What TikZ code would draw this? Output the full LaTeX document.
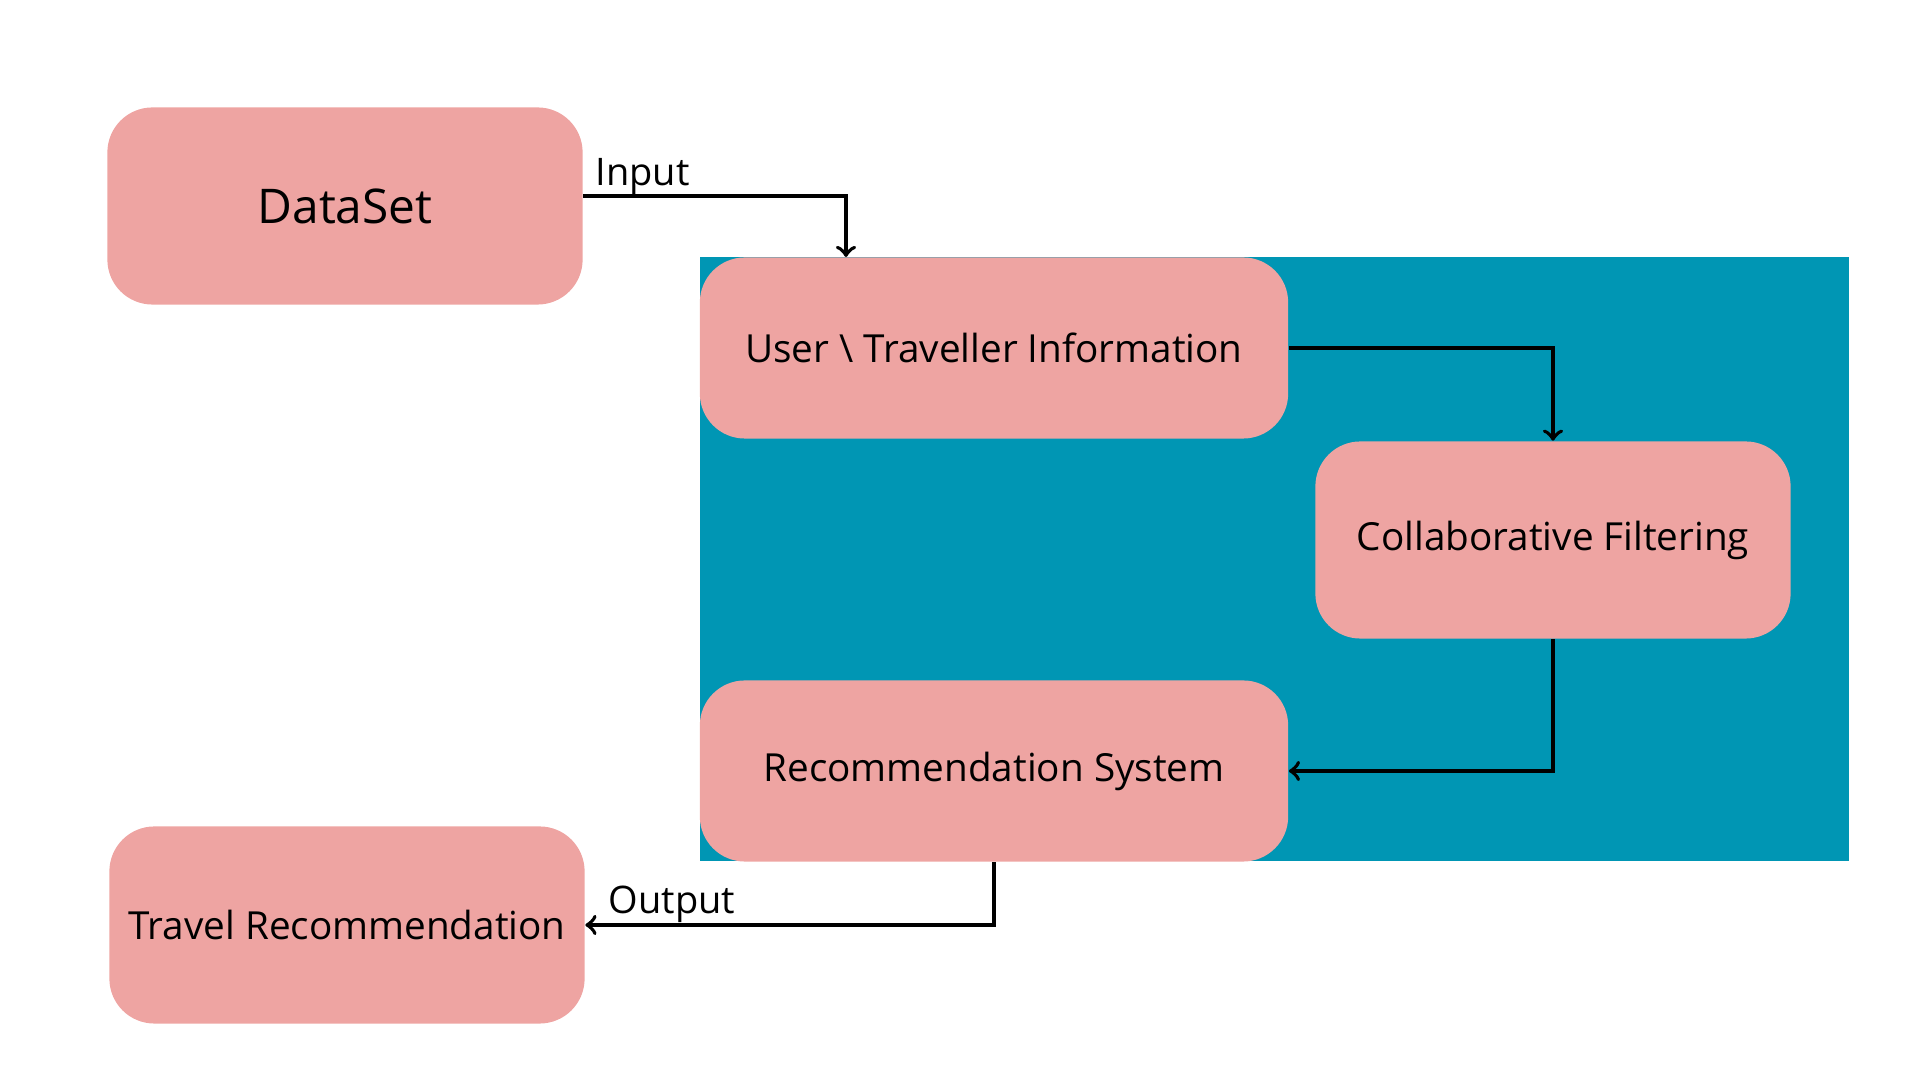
\documentclass[tikz,border=0pt]{standalone}
\usepackage{fontspec}
\setmainfont{Open Sans}
\usepackage{xcolor}
\usetikzlibrary{positioning, calc}

\definecolor{boxpink}{RGB}{238,164,162}
\definecolor{panelteal}{RGB}{0,150,180}

\begin{document}
\begin{tikzpicture}[
    x=0.01cm, y=-0.01cm,
    box/.style={fill=boxpink, rectangle, rounded corners=0.45cm, align=center, inner sep=0pt, font=\fontsize{11}{13}\selectfont},
    bigbox/.style={box, minimum width=4.75cm, minimum height=1.97cm},
    widebox/.style={box, minimum width=5.88cm, minimum height=1.81cm},
    arrow/.style={->, >=to, line width=1.1pt},
    lbl/.style={font=\fontsize{10.8}{13}\selectfont, inner sep=0pt},
]
\useasboundingbox (0,0) rectangle (1920,1080);

% Panel
\fill[panelteal] (700,257) rectangle (1849,861);

% Outside boxes
\node[bigbox, font=\fontsize{13.6}{16}\selectfont] (dataset) at (345,206) {DataSet};
\node[bigbox] (travel) at (347,925) {Travel Recommendation};

% Inside boxes
\node[widebox] (user) at (994,348) {User \textbackslash{} Traveller Information};
\node[bigbox] (collab) at (1553,540) {Collaborative Filtering};
\node[widebox] (recsys) at (994,771) {Recommendation System};

% Arrows
\coordinate (inputin) at (846,257);
\draw[arrow] ([yshift=0.1cm]dataset.east) -| (inputin);
\node[lbl, anchor=base west] (inputlbl) at (595,186) {Input};
\draw[arrow] (user.east) -| (collab.north);
\draw[arrow] (collab.south) |- (recsys.east);
\draw[arrow] (recsys.south) |- (travel.east);
\node[lbl, anchor=base west] (outputlbl) at (608,914) {Output};

\end{tikzpicture}
\end{document}
